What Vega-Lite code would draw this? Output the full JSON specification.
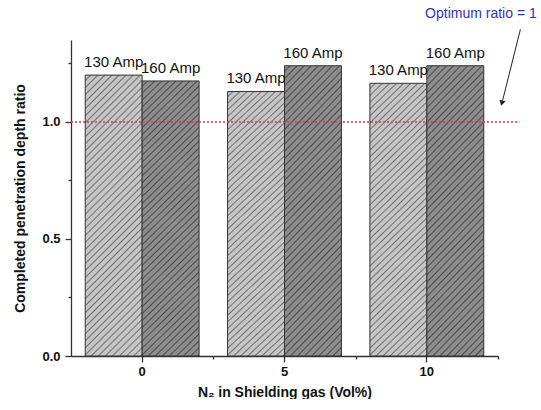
{
  "$schema": "https://vega.github.io/schema/vega-lite/v6.json",
  "width": 427,
  "height": 316,
  "padding": {"left": 13, "top": 7, "right": 0, "bottom": 0},
  "config": {
    "view": {"stroke": null},
    "font": "Liberation Sans",
    "axis": {
      "domainColor": "#333333",
      "domainWidth": 1.3,
      "tickColor": "#333333",
      "tickWidth": 1.3,
      "labelColor": "#111111",
      "labelFont": "Liberation Sans",
      "labelFontWeight": "bold",
      "labelFontSize": 13,
      "titleColor": "#111111",
      "titleFont": "Liberation Sans",
      "titleFontWeight": "bold",
      "titleFontSize": 14,
      "grid": false
    }
  },
  "data": {
    "values": [
      {"n2": "0", "current": "130 Amp", "ratio": 1.2},
      {"n2": "0", "current": "160 Amp", "ratio": 1.175},
      {"n2": "5", "current": "130 Amp", "ratio": 1.13},
      {"n2": "5", "current": "160 Amp", "ratio": 1.24},
      {"n2": "10", "current": "130 Amp", "ratio": 1.165},
      {"n2": "10", "current": "160 Amp", "ratio": 1.24}
    ]
  },
  "layer": [
    {
      "encoding": {
        "x": {
          "field": "n2",
          "type": "nominal",
          "sort": ["0", "5", "10"],
          "scale": {"paddingInner": 0.2, "paddingOuter": 0.1},
          "axis": {
            "title": "N₂ in Shielding gas (Vol%)",
            "labelAngle": 0,
            "tickSize": 6,
            "labelPadding": 3,
            "titlePadding": 7
          }
        },
        "xOffset": {
          "field": "current",
          "type": "nominal",
          "sort": ["130 Amp", "160 Amp"],
          "scale": {"paddingInner": 0, "paddingOuter": 0}
        },
        "y": {
          "field": "ratio",
          "type": "quantitative",
          "scale": {"domain": [0, 1.35], "nice": false},
          "axis": {
            "title": "Completed penetration depth ratio",
            "values": [0, 0.25, 0.5, 0.75, 1, 1.25],
            "labelExpr": "(datum.value == 0.25 || datum.value == 0.75 || datum.value == 1.25) ? '' : format(datum.value, '.1f')",
            "tickSize": {"condition": {"test": "datum.value == 0 || datum.value == 0.5 || datum.value == 1", "value": 6}, "value": 3},
            "labelPadding": 5,
            "titlePadding": 14
          }
        }
      },
      "layer": [
        {
          "mark": {"type": "bar", "stroke": "#333333", "strokeWidth": 1},
          "encoding": {
            "fill": {
              "condition": {
                "test": "datum.current === '130 Amp'",
                "value": {"gradient": "linear", "x1": 0, "y1": 0, "x2": 0.233, "y2": 1.155, "stops": [
{"offset":0,"color":"#c6c6c6"},{"offset":0.0115,"color":"#c6c6c6"},{"offset":0.0163,"color":"#767676"},
{"offset":0.0208,"color":"#c6c6c6"},{"offset":0.0323,"color":"#c6c6c6"},{"offset":0.0371,"color":"#767676"},
{"offset":0.0417,"color":"#c6c6c6"},{"offset":0.0532,"color":"#c6c6c6"},{"offset":0.058,"color":"#767676"},
{"offset":0.0625,"color":"#c6c6c6"},{"offset":0.074,"color":"#c6c6c6"},{"offset":0.0788,"color":"#767676"},
{"offset":0.0833,"color":"#c6c6c6"},{"offset":0.0948,"color":"#c6c6c6"},{"offset":0.0996,"color":"#767676"},
{"offset":0.1042,"color":"#c6c6c6"},{"offset":0.1157,"color":"#c6c6c6"},{"offset":0.1205,"color":"#767676"},
{"offset":0.125,"color":"#c6c6c6"},{"offset":0.1365,"color":"#c6c6c6"},{"offset":0.1413,"color":"#767676"},
{"offset":0.1458,"color":"#c6c6c6"},{"offset":0.1573,"color":"#c6c6c6"},{"offset":0.1621,"color":"#767676"},
{"offset":0.1667,"color":"#c6c6c6"},{"offset":0.1782,"color":"#c6c6c6"},{"offset":0.183,"color":"#767676"},
{"offset":0.1875,"color":"#c6c6c6"},{"offset":0.199,"color":"#c6c6c6"},{"offset":0.2038,"color":"#767676"},
{"offset":0.2083,"color":"#c6c6c6"},{"offset":0.2198,"color":"#c6c6c6"},{"offset":0.2246,"color":"#767676"},
{"offset":0.2292,"color":"#c6c6c6"},{"offset":0.2407,"color":"#c6c6c6"},{"offset":0.2455,"color":"#767676"},
{"offset":0.25,"color":"#c6c6c6"},{"offset":0.2615,"color":"#c6c6c6"},{"offset":0.2663,"color":"#767676"},
{"offset":0.2708,"color":"#c6c6c6"},{"offset":0.2823,"color":"#c6c6c6"},{"offset":0.2871,"color":"#767676"},
{"offset":0.2917,"color":"#c6c6c6"},{"offset":0.3032,"color":"#c6c6c6"},{"offset":0.308,"color":"#767676"},
{"offset":0.3125,"color":"#c6c6c6"},{"offset":0.324,"color":"#c6c6c6"},{"offset":0.3288,"color":"#767676"},
{"offset":0.3333,"color":"#c6c6c6"},{"offset":0.3448,"color":"#c6c6c6"},{"offset":0.3496,"color":"#767676"},
{"offset":0.3542,"color":"#c6c6c6"},{"offset":0.3657,"color":"#c6c6c6"},{"offset":0.3705,"color":"#767676"},
{"offset":0.375,"color":"#c6c6c6"},{"offset":0.3865,"color":"#c6c6c6"},{"offset":0.3913,"color":"#767676"},
{"offset":0.3958,"color":"#c6c6c6"},{"offset":0.4073,"color":"#c6c6c6"},{"offset":0.4121,"color":"#767676"},
{"offset":0.4167,"color":"#c6c6c6"},{"offset":0.4282,"color":"#c6c6c6"},{"offset":0.433,"color":"#767676"},
{"offset":0.4375,"color":"#c6c6c6"},{"offset":0.449,"color":"#c6c6c6"},{"offset":0.4538,"color":"#767676"},
{"offset":0.4583,"color":"#c6c6c6"},{"offset":0.4698,"color":"#c6c6c6"},{"offset":0.4746,"color":"#767676"},
{"offset":0.4792,"color":"#c6c6c6"},{"offset":0.4907,"color":"#c6c6c6"},{"offset":0.4955,"color":"#767676"},
{"offset":0.5,"color":"#c6c6c6"},{"offset":0.5115,"color":"#c6c6c6"},{"offset":0.5163,"color":"#767676"},
{"offset":0.5208,"color":"#c6c6c6"},{"offset":0.5323,"color":"#c6c6c6"},{"offset":0.5371,"color":"#767676"},
{"offset":0.5417,"color":"#c6c6c6"},{"offset":0.5532,"color":"#c6c6c6"},{"offset":0.558,"color":"#767676"},
{"offset":0.5625,"color":"#c6c6c6"},{"offset":0.574,"color":"#c6c6c6"},{"offset":0.5788,"color":"#767676"},
{"offset":0.5833,"color":"#c6c6c6"},{"offset":0.5948,"color":"#c6c6c6"},{"offset":0.5996,"color":"#767676"},
{"offset":0.6042,"color":"#c6c6c6"},{"offset":0.6157,"color":"#c6c6c6"},{"offset":0.6205,"color":"#767676"},
{"offset":0.625,"color":"#c6c6c6"},{"offset":0.6365,"color":"#c6c6c6"},{"offset":0.6413,"color":"#767676"},
{"offset":0.6458,"color":"#c6c6c6"},{"offset":0.6573,"color":"#c6c6c6"},{"offset":0.6621,"color":"#767676"},
{"offset":0.6667,"color":"#c6c6c6"},{"offset":0.6782,"color":"#c6c6c6"},{"offset":0.683,"color":"#767676"},
{"offset":0.6875,"color":"#c6c6c6"},{"offset":0.699,"color":"#c6c6c6"},{"offset":0.7038,"color":"#767676"},
{"offset":0.7083,"color":"#c6c6c6"},{"offset":0.7198,"color":"#c6c6c6"},{"offset":0.7246,"color":"#767676"},
{"offset":0.7292,"color":"#c6c6c6"},{"offset":0.7407,"color":"#c6c6c6"},{"offset":0.7455,"color":"#767676"},
{"offset":0.75,"color":"#c6c6c6"},{"offset":0.7615,"color":"#c6c6c6"},{"offset":0.7663,"color":"#767676"},
{"offset":0.7708,"color":"#c6c6c6"},{"offset":0.7823,"color":"#c6c6c6"},{"offset":0.7871,"color":"#767676"},
{"offset":0.7917,"color":"#c6c6c6"},{"offset":0.8032,"color":"#c6c6c6"},{"offset":0.808,"color":"#767676"},
{"offset":0.8125,"color":"#c6c6c6"},{"offset":0.824,"color":"#c6c6c6"},{"offset":0.8288,"color":"#767676"},
{"offset":0.8333,"color":"#c6c6c6"},{"offset":0.8448,"color":"#c6c6c6"},{"offset":0.8496,"color":"#767676"},
{"offset":0.8542,"color":"#c6c6c6"},{"offset":0.8657,"color":"#c6c6c6"},{"offset":0.8705,"color":"#767676"},
{"offset":0.875,"color":"#c6c6c6"},{"offset":0.8865,"color":"#c6c6c6"},{"offset":0.8913,"color":"#767676"},
{"offset":0.8958,"color":"#c6c6c6"},{"offset":0.9073,"color":"#c6c6c6"},{"offset":0.9121,"color":"#767676"},
{"offset":0.9167,"color":"#c6c6c6"},{"offset":0.9282,"color":"#c6c6c6"},{"offset":0.933,"color":"#767676"},
{"offset":0.9375,"color":"#c6c6c6"},{"offset":0.949,"color":"#c6c6c6"},{"offset":0.9538,"color":"#767676"},
{"offset":0.9583,"color":"#c6c6c6"},{"offset":0.9698,"color":"#c6c6c6"},{"offset":0.9746,"color":"#767676"},
{"offset":0.9792,"color":"#c6c6c6"},{"offset":0.9907,"color":"#c6c6c6"},{"offset":0.9955,"color":"#767676"},
{"offset":1,"color":"#c6c6c6"}
                ]}
              },
              "value": {"gradient": "linear", "x1": 0, "y1": 0, "x2": 0.233, "y2": 1.155, "stops": [
{"offset":0,"color":"#8d8d8d"},{"offset":0.0115,"color":"#8d8d8d"},{"offset":0.0163,"color":"#505050"},
{"offset":0.0208,"color":"#8d8d8d"},{"offset":0.0323,"color":"#8d8d8d"},{"offset":0.0371,"color":"#505050"},
{"offset":0.0417,"color":"#8d8d8d"},{"offset":0.0532,"color":"#8d8d8d"},{"offset":0.058,"color":"#505050"},
{"offset":0.0625,"color":"#8d8d8d"},{"offset":0.074,"color":"#8d8d8d"},{"offset":0.0788,"color":"#505050"},
{"offset":0.0833,"color":"#8d8d8d"},{"offset":0.0948,"color":"#8d8d8d"},{"offset":0.0996,"color":"#505050"},
{"offset":0.1042,"color":"#8d8d8d"},{"offset":0.1157,"color":"#8d8d8d"},{"offset":0.1205,"color":"#505050"},
{"offset":0.125,"color":"#8d8d8d"},{"offset":0.1365,"color":"#8d8d8d"},{"offset":0.1413,"color":"#505050"},
{"offset":0.1458,"color":"#8d8d8d"},{"offset":0.1573,"color":"#8d8d8d"},{"offset":0.1621,"color":"#505050"},
{"offset":0.1667,"color":"#8d8d8d"},{"offset":0.1782,"color":"#8d8d8d"},{"offset":0.183,"color":"#505050"},
{"offset":0.1875,"color":"#8d8d8d"},{"offset":0.199,"color":"#8d8d8d"},{"offset":0.2038,"color":"#505050"},
{"offset":0.2083,"color":"#8d8d8d"},{"offset":0.2198,"color":"#8d8d8d"},{"offset":0.2246,"color":"#505050"},
{"offset":0.2292,"color":"#8d8d8d"},{"offset":0.2407,"color":"#8d8d8d"},{"offset":0.2455,"color":"#505050"},
{"offset":0.25,"color":"#8d8d8d"},{"offset":0.2615,"color":"#8d8d8d"},{"offset":0.2663,"color":"#505050"},
{"offset":0.2708,"color":"#8d8d8d"},{"offset":0.2823,"color":"#8d8d8d"},{"offset":0.2871,"color":"#505050"},
{"offset":0.2917,"color":"#8d8d8d"},{"offset":0.3032,"color":"#8d8d8d"},{"offset":0.308,"color":"#505050"},
{"offset":0.3125,"color":"#8d8d8d"},{"offset":0.324,"color":"#8d8d8d"},{"offset":0.3288,"color":"#505050"},
{"offset":0.3333,"color":"#8d8d8d"},{"offset":0.3448,"color":"#8d8d8d"},{"offset":0.3496,"color":"#505050"},
{"offset":0.3542,"color":"#8d8d8d"},{"offset":0.3657,"color":"#8d8d8d"},{"offset":0.3705,"color":"#505050"},
{"offset":0.375,"color":"#8d8d8d"},{"offset":0.3865,"color":"#8d8d8d"},{"offset":0.3913,"color":"#505050"},
{"offset":0.3958,"color":"#8d8d8d"},{"offset":0.4073,"color":"#8d8d8d"},{"offset":0.4121,"color":"#505050"},
{"offset":0.4167,"color":"#8d8d8d"},{"offset":0.4282,"color":"#8d8d8d"},{"offset":0.433,"color":"#505050"},
{"offset":0.4375,"color":"#8d8d8d"},{"offset":0.449,"color":"#8d8d8d"},{"offset":0.4538,"color":"#505050"},
{"offset":0.4583,"color":"#8d8d8d"},{"offset":0.4698,"color":"#8d8d8d"},{"offset":0.4746,"color":"#505050"},
{"offset":0.4792,"color":"#8d8d8d"},{"offset":0.4907,"color":"#8d8d8d"},{"offset":0.4955,"color":"#505050"},
{"offset":0.5,"color":"#8d8d8d"},{"offset":0.5115,"color":"#8d8d8d"},{"offset":0.5163,"color":"#505050"},
{"offset":0.5208,"color":"#8d8d8d"},{"offset":0.5323,"color":"#8d8d8d"},{"offset":0.5371,"color":"#505050"},
{"offset":0.5417,"color":"#8d8d8d"},{"offset":0.5532,"color":"#8d8d8d"},{"offset":0.558,"color":"#505050"},
{"offset":0.5625,"color":"#8d8d8d"},{"offset":0.574,"color":"#8d8d8d"},{"offset":0.5788,"color":"#505050"},
{"offset":0.5833,"color":"#8d8d8d"},{"offset":0.5948,"color":"#8d8d8d"},{"offset":0.5996,"color":"#505050"},
{"offset":0.6042,"color":"#8d8d8d"},{"offset":0.6157,"color":"#8d8d8d"},{"offset":0.6205,"color":"#505050"},
{"offset":0.625,"color":"#8d8d8d"},{"offset":0.6365,"color":"#8d8d8d"},{"offset":0.6413,"color":"#505050"},
{"offset":0.6458,"color":"#8d8d8d"},{"offset":0.6573,"color":"#8d8d8d"},{"offset":0.6621,"color":"#505050"},
{"offset":0.6667,"color":"#8d8d8d"},{"offset":0.6782,"color":"#8d8d8d"},{"offset":0.683,"color":"#505050"},
{"offset":0.6875,"color":"#8d8d8d"},{"offset":0.699,"color":"#8d8d8d"},{"offset":0.7038,"color":"#505050"},
{"offset":0.7083,"color":"#8d8d8d"},{"offset":0.7198,"color":"#8d8d8d"},{"offset":0.7246,"color":"#505050"},
{"offset":0.7292,"color":"#8d8d8d"},{"offset":0.7407,"color":"#8d8d8d"},{"offset":0.7455,"color":"#505050"},
{"offset":0.75,"color":"#8d8d8d"},{"offset":0.7615,"color":"#8d8d8d"},{"offset":0.7663,"color":"#505050"},
{"offset":0.7708,"color":"#8d8d8d"},{"offset":0.7823,"color":"#8d8d8d"},{"offset":0.7871,"color":"#505050"},
{"offset":0.7917,"color":"#8d8d8d"},{"offset":0.8032,"color":"#8d8d8d"},{"offset":0.808,"color":"#505050"},
{"offset":0.8125,"color":"#8d8d8d"},{"offset":0.824,"color":"#8d8d8d"},{"offset":0.8288,"color":"#505050"},
{"offset":0.8333,"color":"#8d8d8d"},{"offset":0.8448,"color":"#8d8d8d"},{"offset":0.8496,"color":"#505050"},
{"offset":0.8542,"color":"#8d8d8d"},{"offset":0.8657,"color":"#8d8d8d"},{"offset":0.8705,"color":"#505050"},
{"offset":0.875,"color":"#8d8d8d"},{"offset":0.8865,"color":"#8d8d8d"},{"offset":0.8913,"color":"#505050"},
{"offset":0.8958,"color":"#8d8d8d"},{"offset":0.9073,"color":"#8d8d8d"},{"offset":0.9121,"color":"#505050"},
{"offset":0.9167,"color":"#8d8d8d"},{"offset":0.9282,"color":"#8d8d8d"},{"offset":0.933,"color":"#505050"},
{"offset":0.9375,"color":"#8d8d8d"},{"offset":0.949,"color":"#8d8d8d"},{"offset":0.9538,"color":"#505050"},
{"offset":0.9583,"color":"#8d8d8d"},{"offset":0.9698,"color":"#8d8d8d"},{"offset":0.9746,"color":"#505050"},
{"offset":0.9792,"color":"#8d8d8d"},{"offset":0.9907,"color":"#8d8d8d"},{"offset":0.9955,"color":"#505050"},
{"offset":1,"color":"#8d8d8d"}
              ]}
            }
          }
        },
        {
          "mark": {"type": "text", "baseline": "bottom", "dy": -5, "fontSize": 15, "font": "Liberation Sans", "color": "#111111"},
          "encoding": {"text": {"field": "current", "type": "nominal"}}
        }
      ]
    },
    {
      "data": {"values": [{}]},
      "layer": [
        {
          "mark": {"type": "rule", "stroke": "#e0393e", "strokeWidth": 1.5, "strokeDash": [2, 2], "clip": false},
          "encoding": {
            "x": {"datum": 0, "type": "quantitative", "scale": {"domain": [0, 1], "nice": false, "zero": false},
              "axis": {"values": [0.3333, 0.6667, 1], "labels": false, "domain": false, "ticks": true, "tickSize": 3, "title": null, "orient": "bottom"}},
            "x2": {"datum": 1.05},
            "y": {"datum": 1, "type": "quantitative", "scale": {"domain": [0, 1.35], "nice": false}, "axis": null}
          }
        },
        {
          "mark": {"type": "rule", "stroke": "#222222", "strokeWidth": 1, "clip": false},
          "encoding": {
            "x": {"datum": 1.0525, "type": "quantitative"},
            "x2": {"datum": 1.0108},
            "y": {"datum": 1.3956, "type": "quantitative"},
            "y2": {"datum": 1.092}
          }
        },
        {
          "mark": {"type": "point", "shape": "triangle-down", "size": 40, "filled": true, "color": "#222222", "opacity": 1, "angle": 14, "clip": false},
          "encoding": {
            "x": {"datum": 1.009, "type": "quantitative"},
            "y": {"datum": 1.08, "type": "quantitative"}
          }
        },
        {
          "mark": {"type": "text", "text": "Optimum ratio = 1", "color": "#3232c0", "fontSize": 14, "font": "Liberation Sans", "baseline": "middle", "align": "center", "clip": false},
          "encoding": {
            "x": {"datum": 0.96, "type": "quantitative"},
            "y": {"datum": 1.46, "type": "quantitative"}
          }
        }
      ]
    }
  ],
  "resolve": {
    "scale": {"x": "independent", "y": "independent"},
    "axis": {"x": "independent", "y": "independent"}
  }
}
